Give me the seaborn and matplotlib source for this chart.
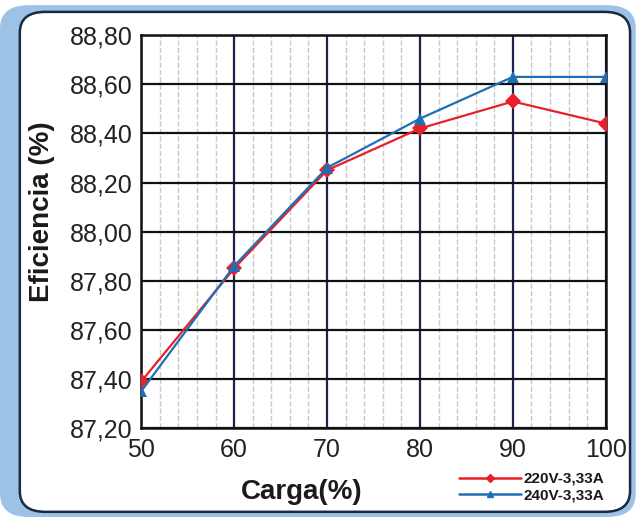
import pandas as pd
import matplotlib.pyplot as plt
import seaborn as sns
from matplotlib.patches import FancyBboxPatch
from matplotlib.ticker import FuncFormatter, MultipleLocator

carga = [50, 60, 70, 80, 90, 100]
ef_220 = [87.39, 87.85, 88.25, 88.42, 88.53, 88.44]
ef_240 = [87.35, 87.86, 88.26, 88.46, 88.63, 88.63]
series = ['220V-3,33A', '240V-3,33A']
yticks = [87.20, 87.40, 87.60, 87.80, 88.00, 88.20, 88.40, 88.60, 88.80]

df = pd.DataFrame({
    'Carga': carga * 2,
    'Eficiencia': ef_220 + ef_240,
    'Serie': [series[0]] * len(carga) + [series[1]] * len(carga),
})

sns.set_theme(style='white')
plt.rcParams['font.family'] = ['Liberation Sans', 'DejaVu Sans']

fig = plt.figure(figsize=(6.39, 5.17), dpi=100)
# marco redondeado
fig.patches.append(FancyBboxPatch((0.0, 0.0), 0.995, 0.99, boxstyle='round,pad=0,rounding_size=0.045',
                                  transform=fig.transFigure, facecolor='#9cc3e6', edgecolor='none', zorder=0))
fig.patches.append(FancyBboxPatch((0.031, 0.01), 0.955, 0.967, boxstyle='round,pad=0,rounding_size=0.04',
                                  transform=fig.transFigure, facecolor='white', edgecolor='#1a2a40', lw=1.8, zorder=1))

ax = fig.add_axes([0.221, 0.172, 0.727, 0.76])
ax.set_zorder(2)

sns.lineplot(data=df, x='Carga', y='Eficiencia', hue='Serie', style='Serie',
             palette={series[0]: '#e8202a', series[1]: '#1f6fb5'},
             markers={series[0]: 'D', series[1]: '^'}, dashes=False,
             markersize=8, linewidth=1.6, markeredgewidth=0, ax=ax, legend=False, zorder=5)

ax.set_xlim(50, 100)
ax.set_ylim(87.2, 88.8)
ax.set_yticks(yticks)
ax.xaxis.set_major_locator(MultipleLocator(10))
ax.xaxis.set_minor_locator(MultipleLocator(2))
ax.yaxis.set_major_formatter(FuncFormatter(lambda v, p: f'{v:.2f}'.replace('.', ',')))

ax.grid(which='minor', axis='x', color='#c8c8c8', linestyle='--', linewidth=1.0)
ax.grid(which='major', axis='x', color='#1c2350', linestyle='-', linewidth=1.6)
ax.grid(which='major', axis='y', color='#111111', linestyle='-', linewidth=1.6)
ax.tick_params(axis='both', which='both', length=0, labelsize=18, colors='#222222')
ax.tick_params(axis='x', pad=7)
ax.tick_params(axis='y', pad=6)
for s in ax.spines.values():
    s.set_color('#111111')
    s.set_linewidth(1.8)

ax.set_xlabel('Carga(%)', fontsize=20, fontweight='bold', color='#1a1a1a', va='center')
ax.xaxis.set_label_coords(0.346, -0.163)
ax.set_ylabel('Eficiencia (%)', fontsize=20, fontweight='bold', color='#1a1a1a', va='center')
ax.yaxis.set_label_coords(-0.213, 0.55)

handles = [plt.Line2D([], [], color='#e8202a', marker='D', markersize=4, lw=1.8),
           plt.Line2D([], [], color='#1f6fb5', marker='^', markersize=5, lw=1.8)]
leg = fig.legend(handles, series, loc='lower right', bbox_to_anchor=(0.965, 0.005),
                 frameon=False, prop={'size': 11, 'weight': 'bold'}, handlelength=4.0,
                 handletextpad=0.2, labelspacing=0.15, borderpad=0.3)
for t in leg.get_texts():
    t.set_color('#1a1a1a')

plt.savefig('out.png', dpi=100)
